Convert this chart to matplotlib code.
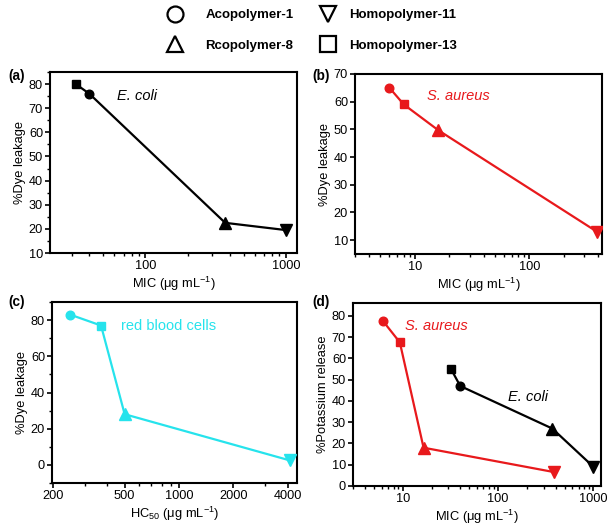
import matplotlib
matplotlib.use("Agg")
import matplotlib.pyplot as plt
from matplotlib.lines import Line2D
from matplotlib.ticker import FixedLocator, LogLocator, MultipleLocator, FuncFormatter
import numpy as np

plt.rcParams['font.family'] = ['Liberation Sans', 'DejaVu Sans']
plt.rcParams['mathtext.default'] = 'regular'

# ---- data (order: Acopolymer-1, Rcopolymer-8, Homopolymer-11, Homopolymer-13)
polymers = ["Acopolymer-1", "Rcopolymer-8", "Homopolymer-11", "Homopolymer-13"]
markers = ["o", "^", "v", "s"]

ecoli_dye_mic = [40, 370, 1000, 32]
ecoli_dye = [76, 22.5, 19.5, 80]

saureus_dye_mic = [6, 16, 390, 8]
saureus_dye = [65, 49.7, 13, 59]

rbc_hc50 = [250, 500, 4100, 370]
rbc_dye = [83, 28, 2.5, 77]

saureus_k_mic = [6.2, 16.5, 390, 9.3]
saureus_k = [77.5, 18, 6.5, 67.5]

ecoli_k_mic = [40, 370, 1000, 32]
ecoli_k = [47, 27, 9, 55]

RED = '#e8191c'
CYAN = '#26e3ec'
BLACK = '#000000'

msize = {"o": 6.2, "s": 5.8, "^": 8.5, "v": 8.5}
TICK_FS = 9.2
LAB_FS = 9.3

fig = plt.figure(figsize=(6.14, 5.30), dpi=100)

def panel(rect):
    ax = fig.add_axes(rect)
    for s in ax.spines.values():
        s.set_linewidth(1.5)
    ax.tick_params(which='major', direction='out', length=3.5, width=1.2, labelsize=TICK_FS, pad=1.5)
    ax.tick_params(which='minor', direction='out', length=2, width=1.0)
    return ax

def series(ax, xs, ys, color):
    order = np.argsort(xs)
    ax.plot(np.array(xs)[order], np.array(ys)[order], color=color, lw=1.6, zorder=2)
    for x, y, m in zip(xs, ys, markers):
        ax.plot([x], [y], marker=m, color=color, ms=msize[m], ls='none', zorder=3)

def logx(ax, lo, hi, majors):
    ax.set_xscale('log')
    ax.set_xlim(lo, hi)
    ax.xaxis.set_major_locator(FixedLocator(majors))
    ax.xaxis.set_major_formatter(FuncFormatter(lambda v, p: '%g' % v))
    ax.xaxis.set_minor_locator(LogLocator(subs=np.arange(2, 10)))
    ax.xaxis.set_minor_formatter(FuncFormatter(lambda v, p: ''))

xlab = 'MIC (μg mL$^{-1}$)'

# (a)
axa = panel([50/614, 1-253/530, 247/614, 181/530])
series(axa, ecoli_dye_mic, ecoli_dye, BLACK)
logx(axa, 21, 1200, [100, 1000])
axa.set_ylim(10, 85)
axa.yaxis.set_major_locator(MultipleLocator(10))
axa.yaxis.set_minor_locator(MultipleLocator(5))
axa.set_ylabel('%Dye leakage', fontsize=LAB_FS, labelpad=2)
axa.set_xlabel(xlab, fontsize=LAB_FS, labelpad=2)
axa.text(0.271, 0.867, 'E. coli', transform=axa.transAxes, style='italic', fontsize=10.5, va='center', color=BLACK)

# (b)
axb = panel([355/614, 1-254/530, 247/614, 180/530])
series(axb, saureus_dye_mic, saureus_dye, RED)
logx(axb, 3, 430, [10, 100])
axb.set_ylim(5, 70)
axb.yaxis.set_major_locator(MultipleLocator(10))
axb.set_ylabel('%Dye leakage', fontsize=LAB_FS, labelpad=2)
axb.set_xlabel(xlab, fontsize=LAB_FS, labelpad=2)
axb.text(0.291, 0.878, 'S. aureus', transform=axb.transAxes, style='italic', fontsize=10.5, va='center', color=RED)

# (c)
axc = panel([52/614, 1-483/530, 245/614, 181/530])
series(axc, rbc_hc50, rbc_dye, CYAN)
logx(axc, 198, 4500, [200, 500, 1000, 2000, 4000])
axc.set_ylim(-10, 90)
axc.yaxis.set_major_locator(MultipleLocator(20))
axc.yaxis.set_minor_locator(MultipleLocator(10))
axc.set_ylabel('%Dye leakage', fontsize=LAB_FS, labelpad=2)
axc.set_xlabel('HC$_{50}$ (μg mL$^{-1}$)', fontsize=LAB_FS, labelpad=2)
axc.text(0.282, 0.867, 'red blood cells', transform=axc.transAxes, fontsize=10.5, va='center', color=CYAN)

# (d)
axd = panel([353/614, 1-486/530, 248/614, 183/530])
series(axd, saureus_k_mic, saureus_k, RED)
series(axd, ecoli_k_mic, ecoli_k, BLACK)
logx(axd, 3, 1200, [10, 100, 1000])
axd.set_ylim(0, 86)
axd.yaxis.set_major_locator(MultipleLocator(10))
axd.set_ylabel('%Potassium release', fontsize=LAB_FS, labelpad=2)
axd.set_xlabel(xlab, fontsize=LAB_FS, labelpad=2)
axd.text(0.21, 0.874, 'S. aureus', transform=axd.transAxes, style='italic', fontsize=10.5, va='center', color=RED)
axd.text(0.625, 0.486, 'E. coli', transform=axd.transAxes, style='italic', fontsize=10.5, va='center', color=BLACK)

# panel labels
for lab, x, y in [('(a)', 8, 76), ('(b)', 312, 76), ('(c)', 8, 302), ('(d)', 312, 302)]:
    fig.text(x/614, 1-y/530, lab, fontsize=9.8, fontweight='bold', va='center', ha='left')

# legend (two columns, drawn as two legends)
handles = [Line2D([], [], marker=m, ls='none', mfc='white', mec='black', mew=1.6, ms=11.5)
           for m in markers]
common = dict(loc='upper left', frameon=False, prop={'weight': 'bold', 'size': 9.5},
              borderpad=0, borderaxespad=0, labelspacing=1.4, handlelength=2.0)
leg1 = fig.legend(handles[:2], polymers[:2], bbox_to_anchor=(162/614, 1-9/530),
                  handletextpad=1.3, **common)
leg2 = fig.legend(handles[2:], polymers[2:], bbox_to_anchor=(315/614, 1-9/530),
                  handletextpad=0.55, **common)

fig.savefig('out.png', dpi=100)
